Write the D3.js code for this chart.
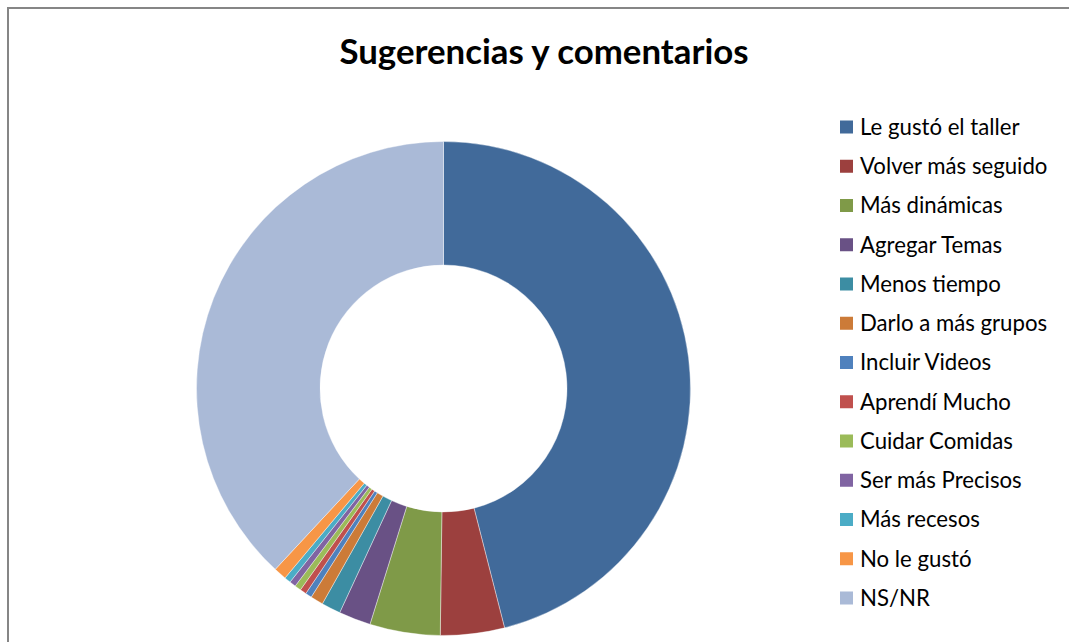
<!DOCTYPE html>
<html lang="es">
<head>
	<meta charset="utf-8">
	<title>Sugerencias y comentarios</title>
	<script src="https://d3js.org/d3.v7.min.js"></script>
	<style>
	body { margin: 0; background: #fff; }
	text { font-family: Lato, "Open Sans", sans-serif; fill: #000; }
	.title { font-weight: bold; font-size: 34.8px; }
	.legend text { font-size: 22.2px; }
	.frame { fill: none; stroke: #868686; stroke-width: 2px; }
	</style>
</head>
<body>
	<script>
		// chart data
		var categories = ["Le gustó el taller", "Volver más seguido", "Más dinámicas", "Agregar Temas",
			"Menos tiempo", "Darlo a más grupos", "Incluir Videos", "Aprendí Mucho",
			"Cuidar Comidas", "Ser más Precisos", "Más recesos", "No le gustó", "NS/NR"];
		var values = [110, 10, 11, 5, 3, 2, 1, 1, 1, 1, 1, 2, 91];
		var colors = ["#416A9A", "#9C403E", "#7F9A48", "#695185", "#3C8DA3", "#CC7B38",
			"#4F81BD", "#C0504D", "#9BBB59", "#8064A2", "#4BACC6", "#F79646", "#AABAD7"];

		var w = 1069;
		var h = 642;

		var svg = d3.select("body")
					.append("svg")
					.attr("width", w)
					.attr("height", h);

		// chart frame (left and top edges show)
		svg.append("rect")
			.attr("class", "frame")
			.attr("x", 8).attr("y", 8)
			.attr("width", w + 20).attr("height", h + 20);

		svg.append("text")
			.attr("class", "title")
			.attr("x", 544)
			.attr("y", 64)
			.attr("text-anchor", "middle")
			.text("Sugerencias y comentarios");

		var cx = 443.5, cy = 388.5;
		var outerR = 247, innerR = 123.5;

		var pie = d3.pie()
					.sort(null)
					.value(function(d) { return d; });

		var arc = d3.arc()
					.innerRadius(innerR)
					.outerRadius(outerR);

		var color = d3.scaleOrdinal()
					.domain(categories)
					.range(colors);

		svg.append("g")
			.attr("transform", "translate(" + cx + "," + cy + ")")
		  .selectAll("path")
			.data(pie(values))
		  .enter().append("path")
			.attr("d", arc)
			.attr("fill", function(d, i) { return color(categories[i]); })
			.attr("stroke", "#fff")
			.attr("stroke-width", 0.4);

		// legend
		var legendY = d3.scalePoint()
					.domain(categories)
					.range([127, 598]);

		var legend = svg.append("g")
			.attr("class", "legend")
		  .selectAll("g")
			.data(categories)
		  .enter().append("g")
			.attr("transform", function(d) { return "translate(840," + legendY(d) + ")"; });

		legend.append("rect")
			.attr("x", 0).attr("y", -6.5)
			.attr("width", 13).attr("height", 13)
			.attr("fill", function(d) { return color(d); });

		legend.append("text")
			.attr("x", 20)
			.attr("dy", "0.35em")
			.text(function(d) { return d; });

	</script>
</body>
</html>
